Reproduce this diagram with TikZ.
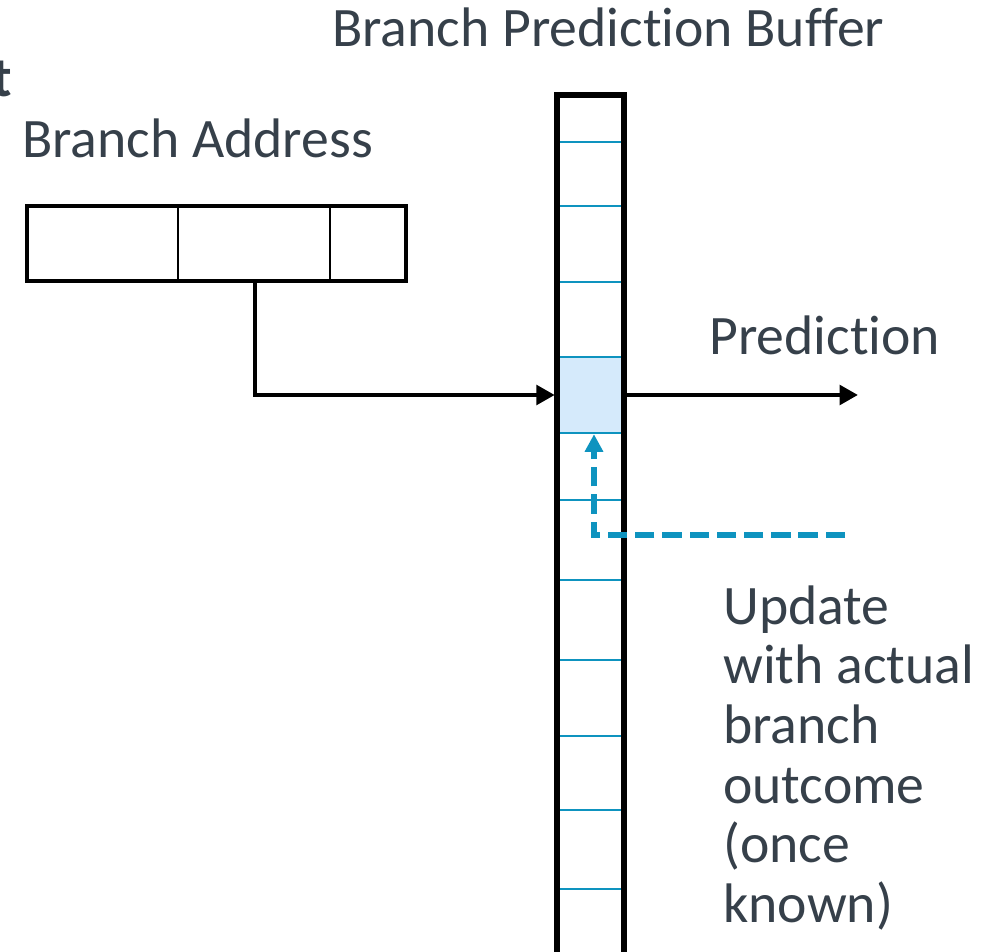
\documentclass[tikz,border=0pt]{standalone}
\usepackage{fontspec}
\setmainfont{Carlito}[Ligatures=NoCommon]
\usetikzlibrary{arrows.meta, positioning}
\definecolor{txtgray}{HTML}{36404A}
\definecolor{entryblue}{HTML}{0E93BF}
\definecolor{cellfill}{HTML}{D5EAFB}

\begin{document}
\begin{tikzpicture}[x=0.02cm, y=-0.02cm,
        lbl/.style={text=txtgray, font=\fontsize{31.7}{34}\selectfont, inner sep=0pt},
        frame/.style={draw=black, line width=2.8pt},
        entry/.style={draw=entryblue, line width=1.2pt}]
        \useasboundingbox (0, 0) rectangle (995, 952);
        \clip (0, 0) rectangle (995, 952);

        % branch address fields
        \coordinate (addrNW) at (27, 206);
        \coordinate (addrSE) at (406, 281);
        \draw[line width=1.7pt] (178, 206) -- (178, 281);
        \draw[line width=1.7pt] (330, 206) -- (330, 281);
        \draw[frame] (addrNW) rectangle (addrSE);
        \coordinate (tap) at (255, 281);

        % buffer entries
        \foreach \y in {142, 206, 282, 500, 580, 660, 736, 810, 889}
            \draw[entry] (557, \y) -- (624, \y);
        \node[draw=entryblue, fill=cellfill, line width=1.4pt, minimum width=1.36cm,
              minimum height=1.52cm, inner sep=0pt] (cell) at (590, 395) {};
        \draw[line width=3pt] (557, 970) -- (557, 95) -- (624, 95) -- (624, 970);

        % index and prediction
        \draw[line width=2.6pt, -{Triangle[length=10.5pt, width=11pt]}] (tap) |- (cell.west);
        \coordinate (predEnd) at (858, 395);
        \draw[line width=2.6pt, -{Triangle[length=10.5pt, width=11pt]}] (cell.east) -- (predEnd);

        % update path
        \coordinate (updStart) at (845, 535);
        \draw[entryblue, line width=3.2pt, dash pattern=on 11pt off 4.5pt,
              -{Triangle[length=10pt, width=10pt]}] (updStart) -| ([xshift=0.08cm]cell.south);

        % labels
        \node[lbl, anchor=base west] (bufTitle) at (332, 47) {Branch Prediction Buffer};
        \node[lbl, anchor=base west] (addrTitle) at (22, 158) {Branch Address};
        \node[lbl, anchor=base west] (predLabel) at (709, 355) {Prediction};
        \node[lbl, anchor=north west, align=left] (updLabel) at (723, 585)
            {Update\\with actual\\branch\\outcome\\(once\\known)};
        \node[lbl, font=\fontsize{32}{34}\bfseries, anchor=base east] (cutT) at (12, 97) {t};

    \end{tikzpicture}
\end{document}
